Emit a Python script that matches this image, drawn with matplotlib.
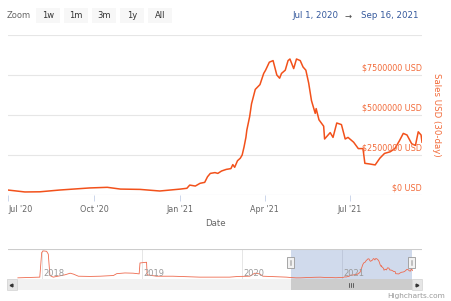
import pandas as pd
import matplotlib
matplotlib.use("Agg")
import matplotlib.pyplot as plt
import matplotlib.dates as mdates
from matplotlib.patches import Rectangle
from matplotlib.transforms import blended_transform_factory

# 30-day sales (USD), Jul 2020 - Sep 2021
sale_dates = [
    "2020-07-01", "2020-07-19", "2020-08-04", "2020-08-25", "2020-09-26", "2020-10-15",
    "2020-10-29", "2020-11-19", "2020-12-10", "2021-01-01", "2021-01-08", "2021-01-11",
    "2021-01-17", "2021-01-22", "2021-01-27", "2021-01-30", "2021-02-02", "2021-02-07",
    "2021-02-10", "2021-02-14", "2021-02-19", "2021-02-24", "2021-02-26", "2021-02-28",
    "2021-03-03", "2021-03-06", "2021-03-08", "2021-03-10", "2021-03-12", "2021-03-13",
    "2021-03-16", "2021-03-18", "2021-03-22", "2021-03-27", "2021-03-31", "2021-04-02",
    "2021-04-06", "2021-04-10", "2021-04-14", "2021-04-17", "2021-04-19", "2021-04-23",
    "2021-04-26", "2021-04-28", "2021-05-02", "2021-05-05", "2021-05-09", "2021-05-12",
    "2021-05-15", "2021-05-18", "2021-05-21", "2021-05-25", "2021-05-26", "2021-05-29",
    "2021-06-03", "2021-06-04", "2021-06-10", "2021-06-13", "2021-06-17", "2021-06-22",
    "2021-06-26", "2021-06-29", "2021-07-05", "2021-07-10", "2021-07-15", "2021-07-17",
    "2021-07-22", "2021-07-28", "2021-08-02", "2021-08-07", "2021-08-13", "2021-08-18",
    "2021-08-23", "2021-08-27", "2021-08-31", "2021-09-05", "2021-09-09", "2021-09-12",
    "2021-09-15", "2021-09-16",
]
sale_musd = [
    0.31, 0.19, 0.20, 0.31, 0.44, 0.48,
    0.37, 0.35, 0.25, 0.37, 0.42, 0.62,
    0.56, 0.73, 0.79, 1.14, 1.35, 1.40,
    1.35, 1.50, 1.60, 1.65, 1.90, 1.73,
    2.14, 2.30, 2.50, 3.00, 3.60, 4.06,
    4.90, 5.70, 6.60, 6.90, 7.60, 7.80,
    8.30, 8.40, 7.50, 7.30, 7.60, 7.80,
    8.40, 8.50, 7.90, 8.50, 8.40, 8.00,
    7.80, 7.00, 5.90, 5.10, 5.40, 4.70,
    4.30, 3.50, 3.90, 3.60, 4.50, 4.40,
    3.50, 3.60, 3.30, 2.90, 2.90, 1.98,
    1.94, 1.88, 2.30, 2.60, 2.70, 2.90,
    3.40, 3.85, 3.75, 3.20, 3.10, 3.95,
    3.75, 3.30,
]

# older history shown only in the navigator
hist_dates = [
    "2017-10-06", "2017-12-25", "2018-01-01", "2018-01-07", "2018-01-19", "2018-01-25",
    "2018-01-31", "2018-02-12", "2018-03-27", "2018-04-15", "2018-04-27", "2018-05-15",
    "2018-06-27", "2018-08-02", "2018-09-20", "2018-10-02", "2018-11-01", "2018-12-01",
    "2018-12-23", "2018-12-26", "2019-01-19", "2019-01-21", "2019-02-24", "2019-04-25",
    "2019-08-01", "2019-11-18", "2019-12-20", "2020-01-31", "2020-02-18", "2020-03-07",
    "2020-03-19", "2020-06-13",
]
hist_musd = [
    0.2, 0.5, 11.1, 11.8, 11.6, 10.4,
    1.2, 0.5, 1.5, 2.2, 1.8, 0.9,
    0.8, 0.9, 1.2, 2.0, 2.3, 2.2,
    1.9, 6.6, 6.9, 1.5, 0.9, 0.9,
    0.5, 0.5, 0.8, 0.9, 2.2, 1.9,
    0.9, 0.5,
]

y_ticks = [0, 2500000, 5000000, 7500000]
y_tick_labels = ["$0 USD", "$2500000 USD", "$5000000 USD", "$7500000 USD"]
x_tick_dates = ["2020-07-01", "2020-10-01", "2021-01-01", "2021-04-01", "2021-07-01"]
x_tick_labels = ["Jul '20", "Oct '20", "Jan '21", "Apr '21", "Jul '21"]
nav_years = ["2018", "2019", "2020", "2021"]
zoom_buttons = ["1w", "1m", "3m", "1y", "All"]
range_start = "2020-07-01"
range_end = "2021-09-16"

LINE = "#f2511b"
LABEL = "#f26b3a"
GRID = "#e6e6e6"
W, H = 452, 301

x_sales = mdates.date2num(pd.to_datetime(sale_dates))
y_sales = [v * 1e6 for v in sale_musd]
x_nav = list(mdates.date2num(pd.to_datetime(hist_dates))) + list(x_sales)
y_nav = [v * 1e6 for v in hist_musd] + y_sales
x0 = mdates.date2num(pd.Timestamp(range_start))
x1 = mdates.date2num(pd.Timestamp(range_end))


def px_box(left, top, right, bottom):
    return [left / W, 1 - bottom / H, (right - left) / W, (bottom - top) / H]


fig = plt.figure(figsize=(W / 100, H / 100), dpi=100)
fig.patch.set_facecolor("white")

# main chart
ax = fig.add_axes(px_box(8, 35, 422, 195))
ax.plot(x_sales, y_sales, color=LINE, lw=1.1, solid_joinstyle="round")
ax.set_xlim(x0, x1)
ax.set_ylim(0, 10000000)
for s in ax.spines.values():
    s.set_visible(False)
for v in y_ticks[1:] + [10000000]:
    ax.axhline(v, color=GRID, lw=0.8, zorder=0)
ax.axhline(0, color="#ccd6eb", lw=0.8, zorder=0)
ax.set_yticks([])
tx = mdates.date2num(pd.to_datetime(x_tick_dates))
ax.set_xticks(tx)
ax.set_xticklabels(x_tick_labels, fontsize=5.8, color="#666666")
ax.get_xticklabels()[0].set_horizontalalignment("left")
ax.tick_params(axis="x", length=4, width=0.7, color="#ccd6eb", pad=3)
ax.set_xlabel("Date", fontsize=6.2, color="#666666", labelpad=4)
trans = blended_transform_factory(ax.transAxes, ax.transData)
for v, lab in zip(y_ticks, y_tick_labels):
    ax.text(1.0, v + 170000, lab, transform=trans, ha="right", va="bottom",
            fontsize=5.8, color=LABEL)

# navigator
nav = fig.add_axes(px_box(8, 249, 422, 279))
nav.plot(x_nav, y_nav, color="#ee6a4e", lw=0.6)
jan2018 = mdates.date2num(pd.Timestamp("2018-01-01"))
per_day = 100 / 365.25
nav.set_xlim(jan2018 - 33.7 / per_day, jan2018 + 380.3 / per_day)
nav.set_ylim(-0.3e6, 12.6e6)
nav.set_xticks([])
nav.set_yticks([])
for s in nav.spines.values():
    s.set_visible(False)
nav.axhline(12.6e6, color="#cccccc", lw=0.8)
for yr in nav_years:
    xy = mdates.date2num(pd.Timestamp(yr + "-01-01"))
    nav.axvline(xy, color=GRID, lw=0.7, zorder=0)
    nav.text(xy + 5, 1.9e6, yr, fontsize=6, color="#999999", ha="left", va="center")
nav.axvspan(x0, x1, color="#6685c2", alpha=0.3, lw=0)

# overlay for pixel-placed decorations
ov = fig.add_axes([0, 0, 1, 1])
ov.set_xlim(0, W)
ov.set_ylim(H, 0)
ov.axis("off")

# range selector
ov.text(7, 16, "Zoom", fontsize=6, color="#666666", va="center")
for i, b in enumerate(zoom_buttons):
    left = 36 + i * 28
    ov.add_patch(Rectangle((left, 8), 24, 15, facecolor="#f7f7f7", edgecolor="none"))
    ov.text(left + 12, 16, b, fontsize=6, color="#333333", ha="center", va="center")
ov.text(338, 16, "Jul 1, 2020", fontsize=6.2, color="#34589c", ha="right", va="center")
ov.text(348, 16, "\u2192", fontsize=6, color="#444444", ha="center", va="center")
ov.text(419, 16, "Sep 16, 2021", fontsize=6.2, color="#34589c", ha="right", va="center")

# yaxis title
ov.text(437, 115, "Sales USD (30-day)", fontsize=6.2, color=LABEL, rotation=270,
        ha="center", va="center")

# navigator handles
for hx in (290.7, 411.7):
    ov.add_patch(Rectangle((hx - 3.5, 257), 7, 11, facecolor="#f2f2f2",
                           edgecolor="#999999", lw=0.6))
    ov.plot([hx - 0.8, hx - 0.8], [260, 265], color="#999999", lw=0.4)
    ov.plot([hx + 0.8, hx + 0.8], [260, 265], color="#999999", lw=0.4)

# scrollbar
ov.add_patch(Rectangle((7, 279), 415, 11, facecolor="#f2f2f2", edgecolor="none"))
ov.add_patch(Rectangle((290.7, 279), 121, 11, facecolor="#cccccc", edgecolor="none"))
ov.add_patch(Rectangle((7, 279), 10, 11, facecolor="#e6e6e6", edgecolor="#cccccc", lw=0.4))
ov.add_patch(Rectangle((412, 279), 10, 11, facecolor="#e6e6e6", edgecolor="#cccccc", lw=0.4))
ov.plot([11.5], [284.5], marker="<", ms=2, color="#333333")
ov.plot([417.5], [284.5], marker=">", ms=2, color="#333333")
for gx in (349.5, 351.2, 352.9):
    ov.plot([gx, gx], [282.5, 286.5], color="#333333", lw=0.5)

ov.text(445, 296, "Highcharts.com", fontsize=5.3, color="#999999", ha="right", va="center")

fig.savefig("out.png", dpi=100, facecolor="white")
